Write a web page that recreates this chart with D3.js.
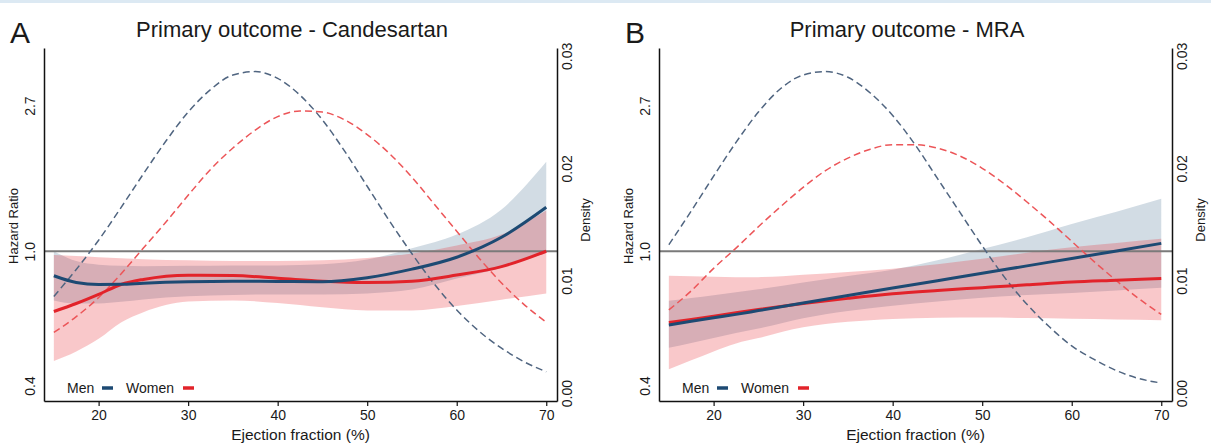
<!DOCTYPE html>
<html>
<head>
<meta charset="utf-8">
<script src="https://cdn.jsdelivr.net/npm/d3@7"></script>
<style>
  body { margin: 0; background: #fff; }
  text { font-family: "Liberation Sans", Arial, Helvetica, sans-serif; fill: #1a1a1a; }
</style>
</head>
<body>
<div id="chart"></div>
<script>
// ejection fraction grid of the hazard ratio curves
const hrEF = [15, 17.5, 20, 22.5, 25, 30, 35, 40, 45, 50, 55, 60, 65, 70];
// ejection fraction grid of the density curves
const denEF = [15, 17.5, 20, 22.5, 25, 27.5, 30, 32.5, 35, 37.5, 40, 42.5, 45, 47.5, 50, 52.5, 55, 57.5, 60, 62.5, 65, 67.5, 70];

// Panel A - Candesartan
const candMenHR    = [0.846, 0.808, 0.797, 0.798, 0.804, 0.812, 0.815, 0.814, 0.812, 0.835, 0.885, 0.96, 1.10, 1.35];
const candMenLo    = [0.715, 0.700, 0.700, 0.708, 0.720, 0.735, 0.742, 0.745, 0.745, 0.750, 0.770, 0.83, 0.894, 0.99];
const candMenHi    = [1.000, 0.935, 0.912, 0.905, 0.903, 0.905, 0.907, 0.908, 0.915, 0.945, 1.020, 1.12, 1.33, 1.84];
const candWomenHR  = [0.663, 0.700, 0.745, 0.797, 0.825, 0.849, 0.847, 0.832, 0.815, 0.808, 0.815, 0.85, 0.90, 1.00];
const candWomenLo  = [0.473, 0.505, 0.550, 0.615, 0.660, 0.710, 0.715, 0.702, 0.682, 0.668, 0.668, 0.688, 0.718, 0.75];
const candWomenHi  = [0.975, 0.968, 0.960, 0.953, 0.947, 0.940, 0.935, 0.935, 0.940, 0.955, 0.985, 1.04, 1.12, 1.32];
const candMenDen   = [0.0086, 0.0110, 0.0136, 0.0165, 0.0195, 0.0224, 0.0250, 0.0270, 0.0283, 0.0286, 0.0280, 0.0265,
                      0.0243, 0.0215, 0.0184, 0.0153, 0.0124, 0.0097, 0.0074, 0.0055, 0.0040, 0.0028, 0.0019];
const candWomenDen = [0.0054, 0.0068, 0.0085, 0.0106, 0.0129, 0.0152, 0.0176, 0.0199, 0.0218, 0.0234, 0.0246, 0.0251,
                      0.0250, 0.0243, 0.0230, 0.0213, 0.0192, 0.0168, 0.0144, 0.0120, 0.0098, 0.0079, 0.0063];

// Panel B - MRA
const mraMenHR    = [0.605, 0.620, 0.635, 0.650, 0.667, 0.702, 0.739, 0.778, 0.818, 0.860, 0.905, 0.952, 1.002, 1.055];
const mraMenLo    = [0.518, 0.535, 0.553, 0.572, 0.590, 0.633, 0.665, 0.690, 0.710, 0.728, 0.742, 0.752, 0.765, 0.779];
const mraMenHi    = [0.713, 0.727, 0.741, 0.756, 0.771, 0.808, 0.845, 0.882, 0.940, 1.015, 1.100, 1.205, 1.31, 1.43];
const mraWomenHR  = [0.615, 0.628, 0.642, 0.657, 0.672, 0.700, 0.725, 0.748, 0.765, 0.780, 0.795, 0.810, 0.820, 0.830];
const mraWomenLo  = [0.447, 0.475, 0.505, 0.533, 0.553, 0.595, 0.618, 0.630, 0.635, 0.636, 0.634, 0.631, 0.628, 0.625];
const mraWomenHi  = [0.846, 0.843, 0.840, 0.838, 0.838, 0.852, 0.868, 0.888, 0.915, 0.950, 0.990, 1.027, 1.058, 1.088];
const mraMenDen   = [0.0132, 0.0162, 0.0193, 0.0223, 0.0250, 0.0271, 0.0283, 0.0286, 0.0281, 0.0267, 0.0247, 0.0221,
                     0.0191, 0.0161, 0.0131, 0.0103, 0.0079, 0.0059, 0.0042, 0.0030, 0.0020, 0.0013, 0.0009];
const mraWomenDen = [0.0074, 0.0091, 0.0111, 0.0129, 0.0148, 0.0166, 0.0183, 0.0198, 0.0209, 0.0217, 0.0221, 0.0221,
                     0.0218, 0.0211, 0.0200, 0.0186, 0.0170, 0.0153, 0.0135, 0.0117, 0.0100, 0.0084, 0.0070];

// axis ticks
const xTicks = [20, 30, 40, 50, 60, 70];
const hrTicks = [0.4, 1.0, 2.7];
const hrTickLabels = ["0.4", "1.0", "2.7"];
const denTicks = [0, 0.01, 0.02, 0.03];
const denTickLabels = ["0.00", "0.01", "0.02", "0.03"];

const panels = [
  { letter: "A", title: "Primary outcome - Candesartan", offset: 0,
    menHR: candMenHR, menLo: candMenLo, menHi: candMenHi,
    womenHR: candWomenHR, womenLo: candWomenLo, womenHi: candWomenHi,
    menDen: candMenDen, womenDen: candWomenDen },
  { letter: "B", title: "Primary outcome - MRA", offset: 615,
    menHR: mraMenHR, menLo: mraMenLo, menHi: mraMenHi,
    womenHR: mraWomenHR, womenLo: mraWomenLo, womenHi: mraWomenHi,
    menDen: mraMenDen, womenDen: mraWomenDen }
];

const menCol = "#1d4a73", womenCol = "#e2232a";
const menDash = "#506580", womenDash = "#ec5558";

const svg = d3.select("#chart").append("svg")
  .attr("width", 1211).attr("height", 443);

svg.append("rect").attr("width", 1211).attr("height", 443).attr("fill", "#fff");
// thin blue strip along the top edge
svg.append("rect").attr("width", 1211).attr("height", 3).attr("fill", "#dce9f3");

const plotTop = 48, plotBottom = 401;

panels.forEach(p => {
  const left = 44 + p.offset, right = 557 + p.offset;

  const x = d3.scaleLinear().domain([13.9, 71.2]).range([left, right]);
  const yHR = d3.scaleLog().domain([0.36, 4.0]).range([plotBottom, plotTop]);
  const yDen = d3.scaleLinear().domain([-0.0007, 0.0307]).range([plotBottom, plotTop]);

  const g = svg.append("g");

  const band = (lo, hi) => d3.area()
    .x((d, i) => x(hrEF[i]))
    .y0((d, i) => yHR(lo[i]))
    .y1((d, i) => yHR(hi[i]))
    .curve(d3.curveMonotoneX)(hrEF);

  const hrLine = vals => d3.line()
    .x((d, i) => x(hrEF[i]))
    .y((d, i) => yHR(vals[i]))
    .curve(d3.curveMonotoneX)(hrEF);

  const denLine = vals => d3.line()
    .x((d, i) => x(denEF[i]))
    .y((d, i) => yDen(vals[i]))
    .curve(d3.curveMonotoneX)(denEF);

  // confidence bands
  g.append("path").attr("d", band(p.menLo, p.menHi))
    .attr("fill", "#1f4e79").attr("fill-opacity", 0.2);
  g.append("path").attr("d", band(p.womenLo, p.womenHi))
    .attr("fill", "#e8242c").attr("fill-opacity", 0.25);

  // reference line at HR = 1
  g.append("line")
    .attr("x1", left).attr("x2", right)
    .attr("y1", yHR(1)).attr("y2", yHR(1))
    .attr("stroke", "#7a7a7a").attr("stroke-width", 2);

  // densities
  g.append("path").attr("d", denLine(p.menDen))
    .attr("fill", "none").attr("stroke", menDash)
    .attr("stroke-width", 1.5).attr("stroke-dasharray", "7,4");
  g.append("path").attr("d", denLine(p.womenDen))
    .attr("fill", "none").attr("stroke", womenDash)
    .attr("stroke-width", 1.5).attr("stroke-dasharray", "7,4");

  // hazard ratio curves
  g.append("path").attr("d", hrLine(p.womenHR))
    .attr("fill", "none").attr("stroke", womenCol).attr("stroke-width", 3);
  g.append("path").attr("d", hrLine(p.menHR))
    .attr("fill", "none").attr("stroke", menCol).attr("stroke-width", 3);

  // x axis
  const xAxis = g.append("g")
    .attr("transform", `translate(0,${plotBottom})`)
    .call(d3.axisBottom(x).tickValues(xTicks).tickSize(5).tickSizeOuter(0).tickFormat(d3.format("d")));
  xAxis.select(".domain").attr("stroke", "#111").attr("stroke-width", 1.5);
  xAxis.selectAll(".tick line").attr("stroke", "#111").attr("stroke-width", 1.2);
  xAxis.selectAll(".tick text").attr("font-size", 14).attr("y", 9).attr("fill", "#1a1a1a")
    .style("font-family", "'Liberation Sans', Arial, sans-serif");

  // left axis (hazard ratio, log scale)
  const yAxis = g.append("g")
    .attr("transform", `translate(${left},0)`)
    .call(d3.axisLeft(yHR).tickValues(hrTicks).tickSize(0).tickSizeOuter(0)
      .tickFormat((d, i) => hrTickLabels[i]));
  yAxis.select(".domain").attr("stroke", "#111").attr("stroke-width", 1.5);
  yAxis.selectAll(".tick text")
    .attr("x", 0).attr("dy", 0).attr("font-size", 14).attr("fill", "#1a1a1a")
    .attr("text-anchor", "middle")
    .attr("transform", "translate(-9,0) rotate(-90)")
    .style("font-family", "'Liberation Sans', Arial, sans-serif");

  // right axis (density)
  const dAxis = g.append("g")
    .attr("transform", `translate(${right},0)`)
    .call(d3.axisRight(yDen).tickValues(denTicks).tickSize(0).tickSizeOuter(0)
      .tickFormat((d, i) => denTickLabels[i]));
  dAxis.select(".domain").attr("stroke", "#111").attr("stroke-width", 1.5);
  dAxis.selectAll(".tick text")
    .attr("x", 0).attr("dy", 0).attr("font-size", 14).attr("fill", "#1a1a1a")
    .attr("text-anchor", "middle")
    .attr("transform", "translate(15,0) rotate(-90)")
    .style("font-family", "'Liberation Sans', Arial, sans-serif");

  // axis titles
  g.append("text")
    .attr("transform", `translate(${left - 26},226) rotate(-90)`)
    .attr("text-anchor", "middle").attr("font-size", 13)
    .text("Hazard Ratio");
  g.append("text")
    .attr("transform", `translate(${right + 33},220) rotate(-90)`)
    .attr("text-anchor", "middle").attr("font-size", 13)
    .text("Density");
  g.append("text")
    .attr("x", (left + right) / 2).attr("y", 440)
    .attr("text-anchor", "middle").attr("font-size", 15.5)
    .text("Ejection fraction (%)");

  // titles
  g.append("text")
    .attr("x", 292 + p.offset).attr("y", 37)
    .attr("text-anchor", "middle").attr("font-size", 22)
    .text(p.title);
  g.append("text")
    .attr("x", 10 + p.offset).attr("y", 43)
    .attr("font-size", 30)
    .text(p.letter);

  // legend
  const lg = g.append("g").attr("transform", `translate(${left + 23},393)`);
  lg.append("text").attr("x", 0).attr("y", 0).attr("font-size", 14).text("Men");
  lg.append("line").attr("x1", 35).attr("x2", 46).attr("y1", -5).attr("y2", -5)
    .attr("stroke", menCol).attr("stroke-width", 3.5);
  lg.append("text").attr("x", 59).attr("y", 0).attr("font-size", 14).text("Women");
  lg.append("line").attr("x1", 116).attr("x2", 127).attr("y1", -5).attr("y2", -5)
    .attr("stroke", womenCol).attr("stroke-width", 3.5);
});
</script>
</body>
</html>
